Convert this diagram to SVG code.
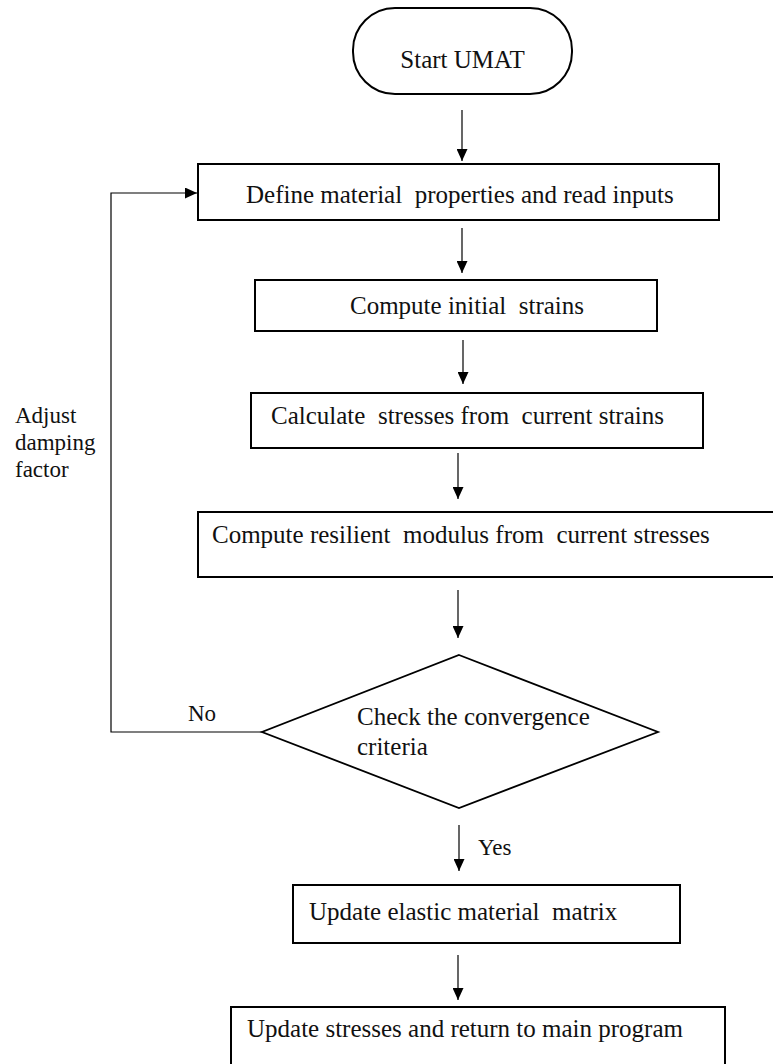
<svg xmlns="http://www.w3.org/2000/svg" width="773" height="1064" viewBox="0 0 773 1064">
  <style>
    .box { fill: #fff; stroke: #000; stroke-width: 2; }
    .dia { fill: #fff; stroke: #000; stroke-width: 1.8; }
    .wire { fill: none; stroke: #000; stroke-width: 1.2; }
    .t { font-family: "Liberation Serif", "Times New Roman", serif; font-size: 25px; fill: #111; white-space: pre; }
    .s { font-family: "Liberation Serif", "Times New Roman", serif; font-size: 23px; fill: #111; white-space: pre; }
  </style>
  <defs>
    <marker id="ah" markerWidth="12" markerHeight="11" viewBox="0 0 12 11" refX="12" refY="5.5" orient="auto" markerUnits="userSpaceOnUse">
      <path d="M0,0 L12,5.5 L0,11 Z" fill="#000"/>
    </marker>
  </defs>
  <rect width="773" height="1064" fill="#fff"/>

  <!-- connectors -->
  <g id="connectors">
    <line class="wire" x1="462" y1="110" x2="462" y2="161" marker-end="url(#ah)"/>
    <line class="wire" x1="462" y1="228" x2="462" y2="273" marker-end="url(#ah)"/>
    <line class="wire" x1="463" y1="340" x2="463" y2="384" marker-end="url(#ah)"/>
    <line class="wire" x1="458" y1="453" x2="458" y2="499" marker-end="url(#ah)"/>
    <line class="wire" x1="458" y1="590" x2="458" y2="638" marker-end="url(#ah)"/>
    <line class="wire" x1="459" y1="825" x2="459" y2="871" marker-end="url(#ah)"/>
    <line class="wire" x1="458" y1="955" x2="458" y2="1000" marker-end="url(#ah)"/>
    <!-- feedback loop when convergence fails -->
    <polyline class="wire" points="262,732 111,732 111,193 197,193" marker-end="url(#ah)"/>
    <text class="s" x="188" y="721">No</text>
    <text class="s" x="478" y="855">Yes</text>
    <text class="s" x="15" y="423">Adjust</text>
    <text class="s" x="15" y="450">damping</text>
    <text class="s" x="15" y="477">factor</text>
  </g>

  <g id="start">
    <rect class="box" x="353" y="8" width="219" height="86" rx="42" ry="42"/>
    <text class="t" x="462.5" y="68" text-anchor="middle" font-size="24">Start UMAT</text>
  </g>

  <g id="define">
    <rect class="box" x="198" y="164" width="521" height="56"/>
    <text class="t" x="246" y="203">Define material  properties and read inputs</text>
  </g>

  <g id="initial">
    <rect class="box" x="255" y="280" width="402" height="51"/>
    <text class="t" x="350" y="314">Compute initial  strains</text>
  </g>

  <g id="calculate">
    <rect class="box" x="251" y="393" width="452" height="55"/>
    <text class="t" x="271" y="424">Calculate  stresses from  current strains</text>
  </g>

  <g id="resilient">
    <rect class="box" x="198" y="512" width="600" height="65"/>
    <text class="t" x="212" y="543">Compute resilient  modulus from  current stresses</text>
  </g>

  <g id="check">
    <polygon class="dia" points="459,655 658,732 459,808 262,732"/>
    <text class="t" x="357" y="725">Check the convergence</text>
    <text class="t" x="357" y="755">criteria</text>
  </g>

  <g id="elastic">
    <rect class="box" x="293" y="885" width="387" height="58"/>
    <text class="t" x="309" y="920">Update elastic material  matrix</text>
  </g>

  <g id="finish">
    <rect class="box" x="231" y="1007" width="494" height="70"/>
    <text class="t" x="247" y="1037">Update stresses and return to main program</text>
  </g>
</svg>
